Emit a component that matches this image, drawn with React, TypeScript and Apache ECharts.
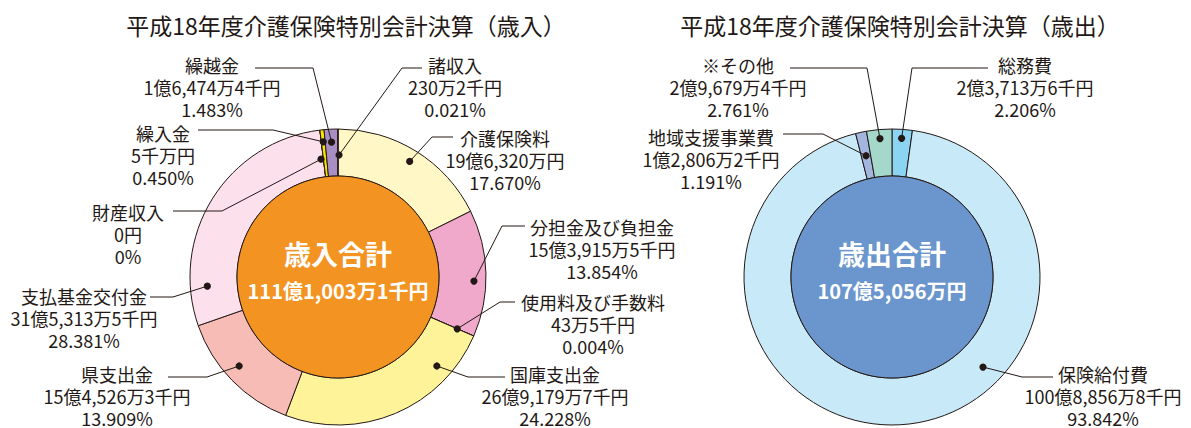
import React, { useEffect, useRef } from "react";
import * as echarts from "echarts";

const FONT = '"Noto Sans CJK JP", "Noto Sans", sans-serif';
const INK = "#231815";

// ---- 歳入 (revenue), values in 千円 ----
const inNames = ["介護保険料", "分担金及び負担金", "使用料及び手数料", "国庫支出金", "県支出金", "支払基金交付金", "財産収入", "繰入金", "繰越金", "諸収入"];
const inValues = [1963200, 1539155, 435, 2691797, 1545263, 3153135, 0, 50000, 164744, 2302];
const inAmounts = ["19億6,320万円", "15億3,915万5千円", "43万5千円", "26億9,179万7千円", "15億4,526万3千円", "31億5,313万5千円", "0円", "5千万円", "1億6,474万4千円", "230万2千円"];
const inPercents = ["17.670%", "13.854%", "0.004%", "24.228%", "13.909%", "28.381%", "0%", "0.450%", "1.483%", "0.021%"];
const inColors = ["#FFF8C6", "#F0A9CB", "#F3B4D0", "#FEF399", "#F6BCB5", "#FCE1EC", "#FCE1EC", "#F7E400", "#A98EC3", "#B9A3D0"];

// ---- 歳出 (expenditure), values in 千円 ----
const outNames = ["総務費", "保険給付費", "地域支援事業費", "※その他"];
const outValues = [237136, 10088568, 128062, 296794];
const outAmounts = ["2億3,713万6千円", "100億8,856万8千円", "1億2,806万2千円", "2億9,679万4千円"];
const outPercents = ["2.206%", "93.842%", "1.191%", "2.761%"];
const outColors = ["#8BD4F2", "#C8E9F8", "#A3B6DF", "#A4D8CB"];

const titles = ["平成18年度介護保険特別会計決算（歳入）", "平成18年度介護保険特別会計決算（歳出）"];
const centerTitles = ["歳入合計", "歳出合計"];

// ---- layout (positions only) ----
const LEFT_C = [338, 277];
const RIGHT_C = [892, 277];
const R_IN = 101;
const R_OUT = 148;
const LINE_H = 22;
const LABEL_FONT = 18;

type Lay = { lx: number; ly: number; end: number[]; elbow: number[]; ang?: number; r: number };

const inLayout: Lay[] = [
  { lx: 505, ly: 138, end: [453, 137], elbow: [432, 137], r: 136 },
  { lx: 602, ly: 227, end: [525, 226], elbow: [502, 226], ang: 91.7, r: 136 },
  { lx: 593, ly: 302, end: [515, 302], elbow: [500, 302], r: 130 },
  { lx: 555, ly: 374, end: [505, 377], elbow: [468, 377], ang: 132, r: 133 },
  { lx: 117, ly: 374, end: [168, 377], elbow: [207, 377], ang: 228, r: 133 },
  { lx: 84, ly: 296, end: [150, 297], elbow: [173, 297], ang: 266, r: 131 },
  { lx: 128, ly: 212, end: [173, 211], elbow: [222, 211], ang: 351.8, r: 119 },
  { lx: 163, ly: 133, end: [198, 130], elbow: [273, 130], r: 136 },
  { lx: 212, ly: 65, end: [255, 68], elbow: [313, 68], r: 135 },
  { lx: 455, ly: 65, end: [422, 68], elbow: [402, 68], ang: 0.5, r: 122 },
];

const outLayout: Lay[] = [
  { lx: 1025, ly: 65, end: [988, 68], elbow: [912, 68], r: 139 },
  { lx: 1103, ly: 374, end: [1053, 377], elbow: [1022, 377], ang: 134.7, r: 128 },
  { lx: 711, ly: 137, end: [783, 134], elbow: [823, 134], r: 124 },
  { lx: 738, ly: 65, end: [790, 68], elbow: [867, 68], r: 139 },
];

function formatTotal(k: number): string {
  const oku = Math.floor(k / 100000);
  const rest = k % 100000;
  const man = Math.floor(rest / 10);
  const sen = rest % 10;
  return `${oku}億${man.toLocaleString("en-US")}万${sen ? sen + "千" : ""}円`;
}

function midAngles(values: number[]): number[] {
  const total = values.reduce((a, b) => a + b, 0);
  let acc = 0;
  return values.map((v) => {
    const m = ((acc + v / 2) / total) * 360;
    acc += v;
    return m;
  });
}

function annotations(center: number[], values: number[], names: string[], amounts: string[], pcts: string[], layout: Lay[]) {
  const mids = midAngles(values);
  const els: any[] = [];
  layout.forEach((l, i) => {
    const a = ((l.ang !== undefined ? l.ang : mids[i]) * Math.PI) / 180;
    const dx = center[0] + l.r * Math.sin(a);
    const dy = center[1] - l.r * Math.cos(a);
    els.push({
      type: "polyline",
      silent: true,
      shape: { points: [l.end, l.elbow, [dx, dy]] },
      style: { stroke: INK, lineWidth: 1, fill: null },
      z: 10,
    });
    els.push({
      type: "circle",
      silent: true,
      shape: { cx: dx, cy: dy, r: 3.6 },
      style: { fill: INK },
      z: 11,
    });
    els.push({
      type: "text",
      silent: true,
      x: l.lx,
      y: l.ly - LINE_H / 2,
      style: {
        text: `${names[i]}\n${amounts[i]}\n${pcts[i]}`,
        font: `${LABEL_FONT}px ${FONT}`,
        fill: INK,
        align: "center",
        verticalAlign: "top",
        lineHeight: LINE_H,
      },
      z: 12,
    });
  });
  return els;
}

function ringSeries(center: number[], names: string[], values: number[], colors: string[]) {
  return {
    type: "pie",
    silent: true,
    center,
    radius: [R_IN, R_OUT],
    startAngle: 90,
    clockwise: true,
    label: { show: false },
    labelLine: { show: false },
    itemStyle: { borderColor: INK, borderWidth: 1 },
    data: names.map((n, i) => ({ name: n, value: values[i], itemStyle: { color: colors[i] } })),
  };
}

function coreSeries(center: number[], name: string, total: number, color: string) {
  return {
    type: "pie",
    silent: true,
    center,
    radius: [0, R_IN],
    label: { show: false },
    labelLine: { show: false },
    itemStyle: { borderColor: INK, borderWidth: 1, color },
    data: [{ name, value: total }],
  };
}

export default function App() {
  const ref = useRef<HTMLDivElement>(null);
  useEffect(() => {
    if (!ref.current) return;
    const chart = echarts.init(ref.current, undefined, { renderer: "svg" });
    const inTotal = inValues.reduce((a, b) => a + b, 0);
    const outTotal = outValues.reduce((a, b) => a + b, 0);
    const centerText = (c: number[], t: string, total: number) => [
      {
        type: "text",
        silent: true,
        x: c[0],
        y: 253,
        style: { text: t, font: `bold 27px ${FONT}`, fill: "#fff", align: "center", verticalAlign: "middle" },
        z: 20,
      },
      {
        type: "text",
        silent: true,
        x: c[0],
        y: 290,
        style: { text: formatTotal(total), font: `bold 20px ${FONT}`, fill: "#fff", align: "center", verticalAlign: "middle" },
        z: 20,
      },
    ];
    chart.setOption({
      animation: false,
      backgroundColor: "#ffffff",
      series: [
        ringSeries(LEFT_C, inNames, inValues, inColors),
        coreSeries(LEFT_C, centerTitles[0], inTotal, "#F39321"),
        ringSeries(RIGHT_C, outNames, outValues, outColors),
        coreSeries(RIGHT_C, centerTitles[1], outTotal, "#6A96CD"),
      ],
      graphic: [
        {
          type: "text",
          silent: true,
          x: 346,
          y: 25,
          style: { text: titles[0], font: `23px ${FONT}`, fill: INK, align: "center", verticalAlign: "middle" },
        },
        {
          type: "text",
          silent: true,
          x: 900,
          y: 25,
          style: { text: titles[1], font: `23px ${FONT}`, fill: INK, align: "center", verticalAlign: "middle" },
        },
        ...centerText(LEFT_C, centerTitles[0], inTotal),
        ...centerText(RIGHT_C, centerTitles[1], outTotal),
        ...annotations(LEFT_C, inValues, inNames, inAmounts, inPercents, inLayout),
        ...annotations(RIGHT_C, outValues, outNames, outAmounts, outPercents, outLayout),
      ],
    });
    return () => chart.dispose();
  }, []);
  return <div ref={ref} style={{ position: "absolute", left: 0, top: 0, width: 1191, height: 428 }} />;
}
